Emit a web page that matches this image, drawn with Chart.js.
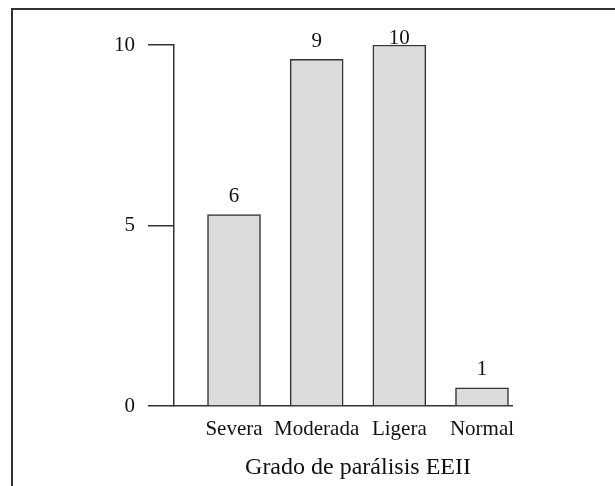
<!DOCTYPE html>
<html>
<head>
<meta charset="utf-8">
<script src="https://cdn.jsdelivr.net/npm/chart.js@4"></script>
<style>
  body { margin: 0; background: #fff; }
  #frame { position: absolute; left: 11px; top: 8px; right: 0; bottom: 0; border-top: 2px solid #333; border-left: 2px solid #333; }
  #wrap { position: absolute; left: 0; top: 0; width: 615px; height: 486px; }
</style>
</head>
<body>
<div id="frame"></div>
<div id="wrap"><canvas id="myChart" width="615" height="486"></canvas></div>
<script>
// datos
const categorias = ["Severa", "Moderada", "Ligera", "Normal"];
const alturas = [5.3, 9.6, 10, 0.5];
const etiquetas = ["6", "9", "10", "1"];
const ticksY = [0, 5, 10];
const tituloX = "Grado de parálisis EEII";

const fuente = "'Liberation Serif', 'Times New Roman', serif";

// numeros encima de cada barra
const etiquetasBarras = {
  id: "etiquetasBarras",
  afterDatasetsDraw(chart) {
    const ctx = chart.ctx;
    const meta = chart.getDatasetMeta(0);
    ctx.save();
    ctx.font = "21px " + fuente;
    ctx.fillStyle = "#111";
    ctx.textAlign = "center";
    ctx.textBaseline = "alphabetic";
    meta.data.forEach((bar, i) => {
      const y = Math.max(bar.y - 12.5, chart.chartArea.top - 1);
      ctx.fillText(etiquetas[i], bar.x, y);
    });
    ctx.restore();
  }
};

// titulo del eje x centrado sobre las categorias
const tituloEje = {
  id: "tituloEje",
  afterDraw(chart) {
    const ctx = chart.ctx;
    const x = chart.scales.x;
    const cx = (x.getPixelForValue(1) + x.getPixelForValue(categorias.length)) / 2;
    ctx.save();
    ctx.font = "24px " + fuente;
    ctx.fillStyle = "#111";
    ctx.textAlign = "center";
    ctx.textBaseline = "alphabetic";
    ctx.fillText(tituloX, cx, x.bottom - 12);
    ctx.restore();
  }
};

const ctx = document.getElementById("myChart");

new Chart(ctx, {
  type: "bar",
  data: {
    datasets: [{
      data: alturas.map((v, i) => ({ x: i + 1, y: v })),
      backgroundColor: "#dcdcdc",
      borderColor: "#333",
      borderWidth: 1.5,
      barThickness: 53
    }]
  },
  options: {
    responsive: false,
    animation: false,
    layout: { padding: { top: 45, right: 103, left: 0, bottom: 0 } },
    plugins: { legend: { display: false }, tooltip: { enabled: false } },
    scales: {
      x: {
        type: "linear",
        min: 0.274,
        max: 4.363,
        offset: false,
        border: { display: true, color: "#333", width: 1.5 },
        grid: { display: false, drawTicks: false },
        ticks: {
          stepSize: 1,
          includeBounds: false,
          padding: 11,
          maxRotation: 0,
          autoSkip: false,
          color: "#111",
          font: { family: fuente, size: 21 },
          callback: (v) => categorias[v - 1] || ""
        },
        afterFit: (s) => { s.height = 80; }
      },
      y: {
        min: 0,
        max: 10,
        border: { display: true, color: "#333", width: 1.5 },
        grid: { drawOnChartArea: false, drawTicks: true, tickLength: 26, color: "#333", lineWidth: 1.5 },
        afterBuildTicks: (s) => { s.ticks = ticksY.map(v => ({ value: v })); },
        ticks: {
          padding: 13,
          color: "#111",
          font: { family: fuente, size: 21 }
        },
        afterFit: (s) => { s.width = 174; }
      }
    }
  },
  plugins: [etiquetasBarras, tituloEje]
});
</script>
</body>
</html>
